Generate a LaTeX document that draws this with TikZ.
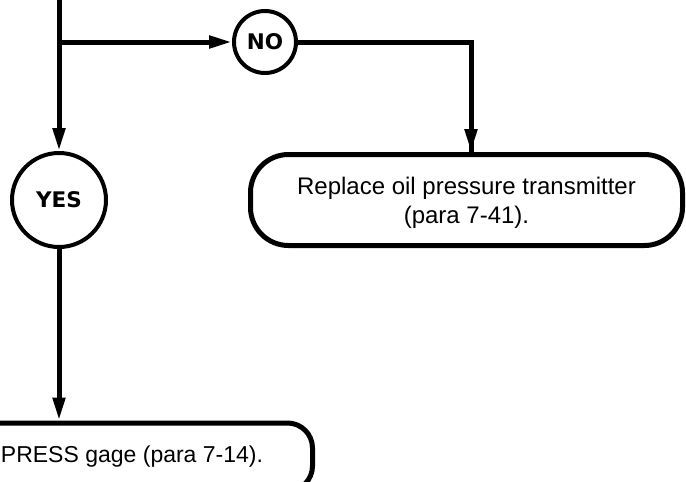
\documentclass[tikz,border=0pt]{standalone}
\usepackage{fontspec}
\setmainfont{Liberation Sans}
\newfontfamily\ansfont{DejaVu Sans}
\usetikzlibrary{arrows.meta}
\tikzset{
  x=1pt, y=-1pt,
  conn/.style={line width=5pt, -{Triangle[length=23pt,width=12pt]}},
  plainline/.style={line width=5pt},
  answer/.style={circle, draw, line width=4pt, inner sep=0pt,
    font=\ansfont\bfseries\fontsize{21.5}{25}\selectfont},
  actionbox/.style={rectangle, draw, line width=5pt, align=center,
    font=\fontsize{24}{29}\selectfont, inner sep=0pt},
}
\begin{document}
\begin{tikzpicture}
\useasboundingbox (0,0) rectangle (686,482);
\clip (0,0) rectangle (686,482);
% nodes
\node[answer, minimum size=62pt] (no) at (265,42) {NO};
\node[answer, minimum size=94pt] (yes) at (59,200) {YES};
\node[actionbox, rounded corners=38pt, minimum width=432pt, minimum height=91pt] (fix) at (466.5,200)
  {\rule{0pt}{23.5pt}Replace oil pressure transmitter\\(para 7-41).};
\node[actionbox, rounded corners=25pt, minimum width=361pt, minimum height=68pt,
  font=\fontsize{23}{28}\selectfont] (gage) at (132,457)
  {PRESS gage (para 7-14).};
% free ends
\coordinate (top) at (59,-5);
\coordinate (j) at (59,42);
\coordinate (turn) at (471,42);
% connectors
\draw[conn] (top) -- (yes.north);
\draw[conn] (j) -- (no.west);
\draw[plainline, line join=miter] (no.east) -- (turn) -- (turn |- fix.north);
\draw[conn] ([yshift=-2pt]turn) -- (turn |- fix.north);
\draw[conn] (yes.south -| top) -- (top |- gage.north);
\end{tikzpicture}
\end{document}
